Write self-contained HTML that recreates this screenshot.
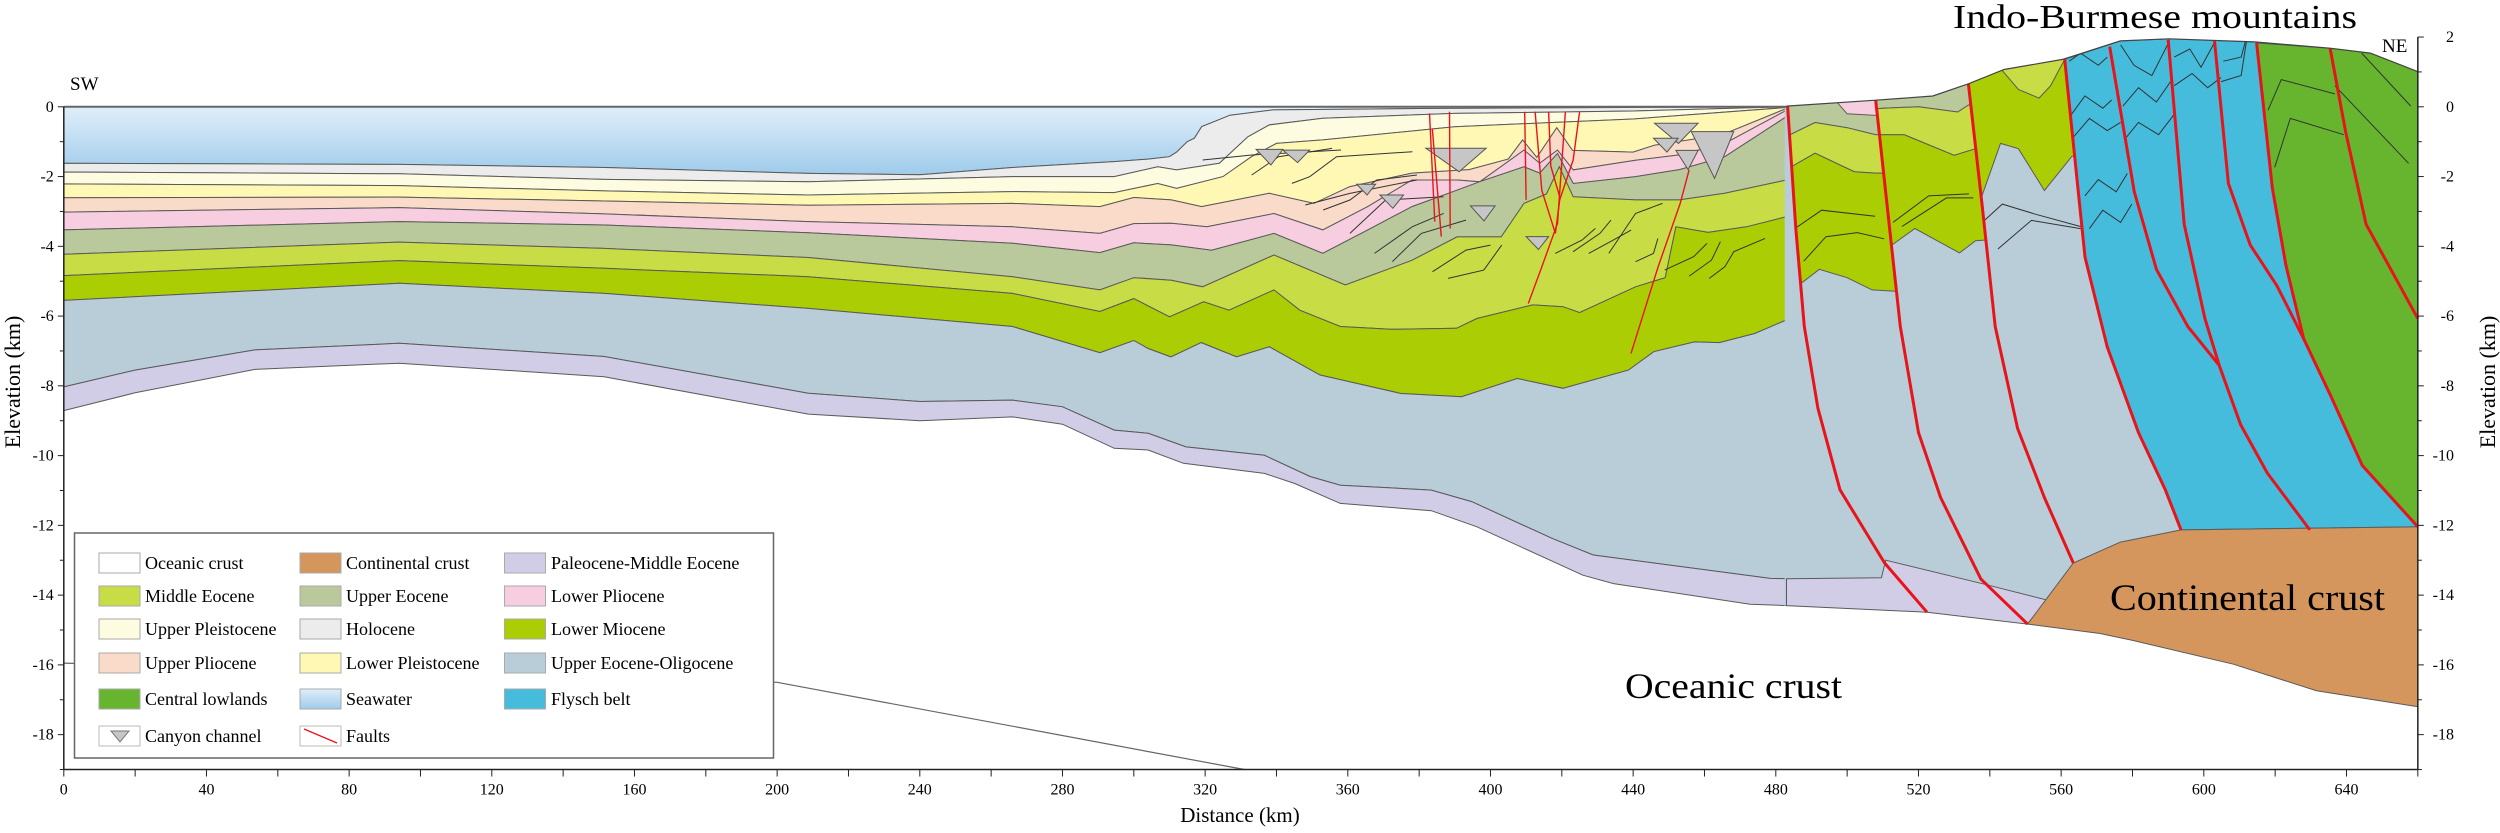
<!DOCTYPE html>
<html><head><meta charset="utf-8"><title>Cross-section SW–NE</title>
<style>
html,body{margin:0;padding:0;background:#fff;}
svg{display:block;font-family:"Liberation Serif",serif;}
</style></head>
<body>
<svg id="chart" width="2500" height="833" viewBox="0 0 2500 833" xmlns="http://www.w3.org/2000/svg">
<defs>
<linearGradient id="seaGrad" x1="0" y1="0" x2="0" y2="1">
<stop offset="0" stop-color="#e0eefa"/><stop offset="1" stop-color="#9ecbea"/>
</linearGradient>
<linearGradient id="seaGradLeg" x1="0" y1="0" x2="0" y2="1">
<stop offset="0" stop-color="#e0eefa"/><stop offset="1" stop-color="#9ecbea"/>
</linearGradient>
</defs>
<g id="layers"></g>
<g id="deco"></g>
<g id="faults"></g>
<g id="cover"></g>
<g id="axes"></g>
<g id="labels">
<text x="70" y="90" font-size="19">SW</text>
<text x="2382" y="52" font-size="19">NE</text>
<text x="1953" y="28" font-size="34" textLength="404" lengthAdjust="spacingAndGlyphs">Indo-Burmese mountains</text>
<text x="2110" y="610" font-size="37" textLength="275" lengthAdjust="spacingAndGlyphs">Continental crust</text>
<text x="1625" y="698" font-size="36" textLength="217" lengthAdjust="spacingAndGlyphs">Oceanic crust</text>
<text x="0" y="0" font-size="22" text-anchor="middle" transform="translate(20,382) rotate(-90)">Elevation (km)</text>
<text x="0" y="0" font-size="22" text-anchor="middle" transform="translate(2495,382) rotate(-90)">Elevation (km)</text>
<text x="1240" y="822" font-size="21" text-anchor="middle">Distance (km)</text>
</g>
<g id="legend"></g>
</svg>
<script>
// ---------- DATA (distance km, elevation km) ----------
const seaSurface = [[0,0],[483,0]];
const seafloor = [[0,-1.62],[94,-1.65],[151.5,-1.74],[208.7,-1.91],[240,-1.95],[266,-1.74],[294.5,-1.57],[304,-1.5],[310,-1.43],[312,-1.3],[315,-1.0],[317,-0.9],[319,-0.57],[327,-0.24],[339,-0.09],[380,-0.05],[483,0]];
const holoceneBase = [[0,-1.87],[94,-1.92],[151.5,-2.08],[208.7,-2.15],[266,-2.0],[294.5,-2.0],[306.7,-1.72],[312,-1.81],[324,-1.62],[332,-0.86],[338,-0.52],[353,-0.33],[390,-0.19],[440,-0.12],[483,0]];
const upperPleistBase = [[0,-2.21],[94,-2.26],[151.5,-2.41],[208.7,-2.53],[266,-2.43],[294.5,-2.46],[302,-2.3],[306.7,-2.2],[312,-2.34],[325,-2.0],[333,-1.43],[340,-1.05],[353,-0.95],[390,-0.57],[440,-0.35],[483,-0.02]];
const lowerPleistBase = [[0,-2.61],[94,-2.59],[151.5,-2.7],[208.7,-2.82],[266,-2.77],[290.5,-2.86],[300,-2.6],[310.5,-2.67],[319,-2.86],[338,-2.48],[350.5,-2.77],[360.5,-2.29],[378,-1.9],[394,-1.8],[405,-1.5],[409,-0.95],[413,-1.45],[418.6,-0.6],[423,-1.25],[440,-1.3],[446,-1.1],[465,-0.8],[483,-0.05]];
const upperPlioBase = [[0,-3.02],[94,-2.89],[151.5,-3.07],[208.7,-3.29],[266,-3.44],[290.5,-3.63],[300,-3.35],[310.5,-3.34],[320.5,-3.44],[339.3,-3.06],[353,-3.53],[365.6,-2.86],[378,-2.1],[390.6,-2.1],[397,-2.15],[409.4,-1.24],[413.8,-1.62],[418.8,-1.24],[423.2,-1.81],[440.7,-1.53],[453,-1.38],[465.7,-1.05],[483,-0.1]];
const lowerPlioBase = [[0,-3.53],[94,-3.29],[151.5,-3.39],[208.7,-3.61],[266,-3.91],[290.5,-4.18],[300,-3.9],[310.5,-3.96],[321.8,-4.11],[339.3,-3.63],[353,-4.2],[365.6,-3.53],[378,-2.86],[390.6,-2.39],[396.9,-2.15],[409.4,-1.72],[413.8,-1.9],[418.8,-1.34],[423.2,-2.2],[440.7,-2.0],[453,-1.8],[465.7,-1.43],[483,-0.28]];
const upperEoceneBase = [[0,-4.23],[94,-3.88],[151.5,-4.06],[208.7,-4.32],[266,-4.87],[290.5,-5.25],[300,-4.9],[310.5,-4.97],[319.3,-5.16],[339.3,-4.25],[359.3,-5.11],[378,-4.4],[390.6,-3.73],[403,-3.73],[409.4,-2.77],[415.7,-2.5],[419.3,-1.72],[423.2,-2.58],[440.7,-2.67],[453,-2.67],[465.7,-2.48],[483,-2.1]];
const middleEoceneBase = [[0,-4.84],[94,-4.41],[151.5,-4.63],[208.7,-4.87],[266,-5.35],[290.5,-5.87],[300,-5.5],[310,-6.02],[319.6,-5.59],[326.7,-5.83],[339.3,-5.25],[346.5,-5.83],[357.9,-6.3],[372,-6.38],[390.5,-6.35],[396.2,-6.07],[411.8,-5.68],[420.3,-5.73],[425,-5.9],[440.7,-5.16],[449,-4.9],[452,-3.44],[461,-3.6],[471.8,-3.44],[483,-3.15]];
const lowerMioceneBase = [[0,-5.55],[94,-5.06],[151.5,-5.35],[208.7,-5.78],[266,-6.3],[290.5,-7.05],[300,-6.7],[304,-6.93],[310.4,-7.17],[318.9,-6.76],[328.8,-7.17],[338,-6.88],[352.2,-7.69],[374.9,-8.22],[391.9,-8.31],[407.5,-7.79],[420.3,-8.07],[438.7,-7.55],[445.8,-7.02],[457.2,-6.74],[464.2,-6.76],[474.1,-6.5],[483,-6.11]];
const oligoceneBase = [[0,-8.03],[20,-7.55],[53.6,-6.97],[94,-6.78],[151.5,-7.16],[208.7,-8.21],[240,-8.45],[266,-8.41],[280,-8.6],[294.5,-9.27],[304,-9.36],[314.6,-9.75],[336.6,-9.99],[349.4,-10.6],[357.9,-10.85],[383.4,-10.99],[394.7,-11.32],[417.4,-12.38],[428.8,-12.85],[478.4,-13.52],[483,-13.53]];
const paleoceneBase = [[0,-8.71],[20,-8.2],[53.6,-7.53],[94,-7.35],[151.5,-7.74],[208.7,-8.81],[240,-9.0],[266,-8.89],[280,-9.1],[294.5,-9.79],[304,-9.84],[313.9,-10.22],[336.6,-10.51],[345.1,-10.8],[357.9,-11.37],[383.4,-11.58],[396.2,-12.04],[425.9,-13.43],[434.5,-13.67],[472.8,-14.26],[483,-14.3]];
const topography = [[483,0.02],[508,0.19],[524,0.31],[534,0.66],[544,1.07],[560.4,1.36],[576.6,1.89],[590.4,1.95],[614.2,1.86],[635.4,1.68],[646.7,1.54],[660,1.01]];
const contTop = [[550.6,-14.83],[563.4,-13.08],[576.6,-12.48],[593.6,-12.13],[660,-12.04]];
const contBottom = [[550.6,-14.83],[570.9,-15.1],[580.2,-15.3],[608.3,-15.98],[631.6,-16.74],[660,-17.2]];
const purpleTopRight = [[483,-13.53],[509.6,-13.5],[510.8,-13.0],[537.5,-13.66],[556,-14.14]];
const purpleBottomRight = [[483,-14.3],[522.4,-14.49],[550.6,-14.83]];
const oceanLine = [[0,-15.95],[200,-16.5],[331,-19]];
const fault1 = [[483.3,0.02],[485.6,-3.49],[488,-6.3],[491.8,-8.64],[498,-10.98],[510.5,-13.08],[522.4,-14.49]];
const fault2 = [[508,0.19],[512.4,-3.96],[514.9,-6.3],[520,-9.34],[526.2,-11.2],[537.5,-13.54],[550.6,-14.83]];
const fault3 = [[534,0.66],[537.8,-2.79],[541.5,-6.3],[547.8,-9.22],[555.3,-11.2],[563.4,-13.08]];
const fault4 = [[561,1.36],[566.7,-4.31],[572.9,-6.88],[581.7,-9.34],[589.2,-10.98],[593.6,-12.13]];
const fault5 = [[573.6,1.72],[580.5,-2.44],[586.7,-4.66],[595.5,-6.3],[604.3,-7.41]];
const fault6 = [[590,1.92],[594.5,-3.37],[600.3,-6.07],[604.3,-7.41],[610.3,-9.11],[617.8,-10.5],[629.7,-12.13]];
const fault7 = [[603,1.89],[606.9,-2.2],[613,-3.96],[620.5,-5.13],[628,-6.65]];
const fault8 = [[614.8,1.83],[619.2,-2.32],[623,-4.54],[628,-6.65],[635.6,-8.29],[644.4,-10.28],[660,-12.04]];
const fault9 = [[635.4,1.68],[639.8,-0.74],[645.5,-3.37],[660,-6.07]];
const minorFaults = [
 [[382.9,-0.19],[384.4,-3.29]],
 [[383.7,-0.62],[386.2,-3.72]],
 [[388.5,-0.14],[388.7,-3.49]],
 [[409.6,-0.14],[410,-2.67]],
 [[412.5,-0.14],[414.4,-2.39],[418.2,-3.63]],
 [[416.3,-0.14],[416.9,-1.7],[419.4,-2.58]],
 [[421,-0.14],[418.8,-3.34],[414.4,-4.59],[410.6,-5.64]],
 [[425,-0.14],[423.2,-1.52],[419.4,-2.67],[418.2,-3.63]],
 [[455.7,-1.81],[453.2,-2.77],[447,-4.59],[439.4,-7.07]]
];
const canyons = [[334.3,341.8,-1.22,-1.67],[341.8,349.3,-1.24,-1.6],[381.9,398.8,-1.19,-1.86],[362.5,367.8,-2.22,-2.53],[369,375.6,-2.53,-2.91],[394.4,401.3,-2.84,-3.27],[410,416.3,-3.72,-4.09],[446,458.2,-0.47,-1.05],[445.7,452.6,-0.9,-1.3],[456.3,468.2,-0.71,-2.05],[452,458.2,-1.25,-1.8]];
const ggBaseA = [[478,-0.8],[484,-0.8],[491,-0.45],[500,-0.6],[508,-0.8],[516,-0.8]];
const meBaseA = [[478,-1.74],[484,-1.74],[491,-1.33],[502,-1.86],[508,-1.9],[516,-1.9]];
const lmBaseA = [[478,-5.1],[486.6,-5.1],[492.2,-4.66],[500,-4.9],[507,-5.25],[516,-5.3]];
const pinkPatchA = [[497,0.15],[508.5,0.25],[508.5,-0.25],[500,-0.2]];
const ggBaseB = [[504,-0.1],[510,-0.04],[520,0.0],[531,-0.15],[534,0.05],[542,0.1]];
const meBaseB = [[504,-0.8],[516,-0.8],[530,-1.39],[536,-1.2],[542,-1.2]];
const lmBaseB = [[504,-3.96],[512.6,-3.96],[519,-3.49],[531.5,-4.19],[536,-3.84],[542,-3.8]];
const meBaseC = [[543,1.1],[548,0.5],[553.8,0.25],[557,0.6],[561,1.36],[568,1.4]];
const lmBaseC = [[530,-2.55],[537.8,-2.55],[543,-1.05],[548,-1.2],[555.3,-2.4],[563,-1.42],[570,-1.3]];
const yTicksLeft = [0,-2,-4,-6,-8,-10,-12,-14,-16,-18];
const yTicksRight = [2,0,-2,-4,-6,-8,-10,-12,-14,-16,-18];
const xTicks = [0,40,80,120,160,200,240,280,320,360,400,440,480,520,560,600,640];
const legendNames = ["Oceanic crust","Continental crust","Paleocene-Middle Eocene","Middle Eocene","Upper Eocene","Lower Pliocene","Upper Pleistocene","Holocene","Lower Miocene","Upper Pliocene","Lower Pleistocene","Upper Eocene-Oligocene","Central lowlands","Seawater","Flysch belt","Canyon channel","Faults"];
const legendColors = ["#ffffff","#d4965c","#d2cde6","#c8dc46","#b9c99b","#f7cee0","#fdfbe0","#ececec","#abcd04","#fadac8","#fef8b4","#b8cdd8","#67b52f","url(#seaGradLeg)","#45bcdc","canyon","fault"];

// ---------- RENDER ----------
const NS = "http://www.w3.org/2000/svg";
const X = km => 63.8 + km * 3.5667;
const Y = e => 106.8 - e * 34.88;
const P = arr => arr.map(p => X(p[0]).toFixed(1) + "," + Y(p[1]).toFixed(1)).join(" ");
function mk(tag, attrs, parent) {
  const el = document.createElementNS(NS, tag);
  for (const k in attrs) el.setAttribute(k, attrs[k]);
  parent.appendChild(el);
  return el;
}
const gL = document.getElementById("layers");
const gD = document.getElementById("deco");
const gF = document.getElementById("faults");
const gC = document.getElementById("cover");
const gA = document.getElementById("axes");
const gLeg = document.getElementById("legend");

function layer(top, bottom, fill, name, parent) {
  const pts = top.concat(bottom.slice().reverse());
  const el = mk("polygon", {points: P(pts), fill: fill, stroke: "#5a5a5a", "stroke-width": "1"}, parent || gL);
  
  
  return el;
}
layer(seaSurface, seafloor, "url(#seaGrad)", "seawater");
layer(seafloor, holoceneBase, "#ececec", "holocene");
layer(holoceneBase, upperPleistBase, "#fdfbe0", "upper-pleistocene");
layer(upperPleistBase, lowerPleistBase, "#fef8b4", "lower-pleistocene");
layer(lowerPleistBase, upperPlioBase, "#fadac8", "upper-pliocene");
layer(upperPlioBase, lowerPlioBase, "#f7cee0", "lower-pliocene");
layer(lowerPlioBase, upperEoceneBase, "#b9c99b", "upper-eocene");
layer(upperEoceneBase, middleEoceneBase, "#c8dc46", "middle-eocene");
layer(middleEoceneBase, lowerMioceneBase, "#abcd04", "lower-miocene");
layer(lowerMioceneBase, oligoceneBase, "#b8cdd8", "upper-eocene-oligocene");
layer(oligoceneBase, paleoceneBase, "#d2cde6", "paleocene-middle-eocene");

const topToF4 = topography.filter(p => p[0] <= 560.4);
const ueoPts = [[482.5,0.0]].concat(topToF4, fault4, contTop.filter(p => p[0] <= 593.6).reverse(), purpleBottomRight.slice(0, 2).reverse(), [[482.5,-14.3]]);
const ueo = mk("polygon", {points: P(ueoPts), fill: "#b8cdd8", stroke: "none"}, gL);


const purR = mk("polygon", {points: P(purpleTopRight.concat([[550.6,-14.83]], purpleBottomRight.slice().reverse())), fill: "#d2cde6", stroke: "#5a5a5a", "stroke-width": "1"}, gL);


const fly = mk("polygon", {points: P(fault4.concat(contTop.filter(p => p[0] > 593.6), [[660,1.01]], topography.filter(p => p[0] > 560.4).reverse())), fill: "#45bcdc", stroke: "#5a5a5a", "stroke-width": "1"}, gL);


const low = mk("polygon", {points: P(fault8.concat([[660,1.01]], topography.filter(p => p[0] > 614.8 && p[0] < 660).reverse())), fill: "#67b52f", stroke: "#5a5a5a", "stroke-width": "1"}, gL);


const cont = mk("polygon", {points: P(contTop.concat(contBottom.slice().reverse())), fill: "#d4965c", stroke: "#5a5a5a", "stroke-width": "1"}, gL);



const defs = document.querySelector("defs");
function blockClip(id, fl, fr) {
  const cp = mk("clipPath", {id: id}, defs);
  const pts = [[fl[0][0], 4]].concat(fl, fr.slice().reverse(), [[fr[0][0], 4]]);
  mk("polygon", {points: P(pts)}, cp);
}
blockClip("clipA", fault1, fault2);
blockClip("clipB", fault2, fault3);
blockClip("clipC", fault3, fault4);
const gA1 = mk("g", {"clip-path": "url(#clipA)"}, gL);


layer([[478,4],[516,4]], ggBaseA, "#b9c99b", "upper-eocene-block-a", gA1);
layer(ggBaseA, meBaseA, "#c8dc46", "middle-eocene-block-a", gA1);
layer(meBaseA, lmBaseA, "#abcd04", "lower-miocene-block-a", gA1);
const pinkA = mk("polygon", {points: P(pinkPatchA), fill: "#f7cee0", stroke: "#5a5a5a", "stroke-width": "1"}, gA1);


const gB1 = mk("g", {"clip-path": "url(#clipB)"}, gL);


layer([[504,4],[542,4]], ggBaseB, "#b9c99b", "upper-eocene-block-b", gB1);
layer(ggBaseB, meBaseB, "#c8dc46", "middle-eocene-block-b", gB1);
layer(meBaseB, lmBaseB, "#abcd04", "lower-miocene-block-b", gB1);
const gC1 = mk("g", {"clip-path": "url(#clipC)"}, gL);


layer([[530,4],[570,4]], lmBaseC, "#abcd04", "lower-miocene-block-c", gC1);
layer([[543,4],[568,4]], meBaseC, "#c8dc46", "middle-eocene-block-c", gC1);

const Z = (zx, zy) => [472.8 + zx / 7.99, 3.062 - zy / 85.46];
const decoLinesZ = [
 [[715,150],[740,130],[780,160],[800,140]],
 [[720,280],[750,235],[790,265],[810,245]],
 [[725,335],[760,290],[800,320],[830,300]],
 [[750,480],[780,440],[820,470],[845,425]],
 [[760,560],[790,515],[830,545],[855,500]],
 [[830,110],[860,160],[900,185],[935,110]],
 [[835,260],[870,215],[910,250],[945,195]],
 [[840,340],[870,300],[915,330],[950,280]],
 [[950,140],[985,120],[1010,165],[1040,105]],
 [[950,210],[990,180],[1025,215],[1055,190]],
 [[1060,150],[1100,140],[1110,100]],
 [[1055,200],[1100,185],[1112,100]],
 [[1160,270],[1190,195],[1310,230]],
 [[1175,410],[1210,290],[1330,330]],
 [[1370,130],[1480,260]],
 [[1310,210],[1475,400]],
 [[100,560],[160,515],[280,530]],
 [[120,640],[170,580],[240,570],[300,585]],
 [[320,545],[400,480],[490,475]],
 [[340,555],[440,485],[500,485]],
 [[525,540],[565,500],[640,525],[740,555]],
 [[555,610],[630,540],[740,560]]
];
decoLinesZ.forEach(l => {
  const e = mk("polyline", {points: P(l.map(p => Z(p[0], p[1]))), fill: "none", stroke: "#333", "stroke-width": "1"}, gD);
  
  
});
const W = (zx, zy) => [290.5 + zx / 7.99, 1.342 - zy / 104.6];
const wedgeLinesZ = [
 [[230,300],[340,285],[540,270]],[[340,345],[400,290],[520,265]],[[430,370],[470,350],[530,290],[700,275]],
 [[460,435],[560,400],[710,360]],[[500,450],[560,420],[620,360],[710,345]],
 [[560,520],[640,420],[770,410]],[[615,580],[700,500],[770,460]],[[655,605],[720,520],[820,480]],
 [[745,635],[820,570],[875,555]],[[780,655],[860,630],[900,555]],
 [[1020,580],[1080,540],[1110,505]],[[1060,575],[1120,520],[1145,480]],[[1095,580],[1150,540],[1190,510]],
 [[1140,580],[1200,460],[1260,430]],[[1200,605],[1240,580],[1250,535]],[[1265,630],[1330,590],[1360,550]],
 [[1320,648],[1370,600],[1390,545]],[[1365,655],[1400,620],[1420,575],[1490,535]]
];
wedgeLinesZ.forEach(l => {
  const e = mk("polyline", {points: P(l.map(p => W(p[0], p[1]))), fill: "none", stroke: "#333", "stroke-width": "1"}, gD);
  
  
});
canyons.forEach(c => {
  const pts = [[c[0], c[2]], [c[1], c[2]], [(c[0] + c[1]) / 2 + (c[1] - c[0]) * 0.05, c[3]]];
  const e = mk("polygon", {points: P(pts), fill: "#c6c6c6", stroke: "#555", "stroke-width": "1"}, gD);
  
  
});
const oc = mk("polyline", {points: P(oceanLine), fill: "none", stroke: "#666", "stroke-width": "1.2"}, gD);



[fault1,fault2,fault3,fault4,fault5,fault6,fault7,fault8,fault9].forEach((f, i) => {
  const e = mk("polyline", {points: P(f), fill: "none", stroke: "#e8141b", "stroke-width": "3", "stroke-linejoin": "round"}, gF);
  
  
});
minorFaults.forEach(f => {
  const e = mk("polyline", {points: P(f), fill: "none", stroke: "#e8141b", "stroke-width": "1.4"}, gF);
  
  
});

const sky = mk("polygon", {points: P(topography.concat([[660,4],[483,4]])), fill: "#fff", stroke: "none"}, gC);


const surf = mk("polyline", {points: P(topography), fill: "none", stroke: "#444", "stroke-width": "1.2"}, gC);


const sl = mk("polyline", {points: P(seaSurface), fill: "none", stroke: "#666", "stroke-width": "2"}, gC);



const yBot = Y(-19);
const axL = mk("line", {x1: X(0), y1: Y(0), x2: X(0), y2: yBot, stroke: "#222", "stroke-width": "1.5"}, gA);


const axR = mk("line", {x1: X(660), y1: Y(2), x2: X(660), y2: yBot, stroke: "#222", "stroke-width": "1.5"}, gA);


const axB = mk("line", {x1: X(0), y1: yBot, x2: X(660), y2: yBot, stroke: "#222", "stroke-width": "1.5"}, gA);


for (let e = 0; e >= -19; e--) {
  const len = e % 2 === 0 ? 6 : 4;
  mk("line", {x1: X(0) - len, y1: Y(e), x2: X(0), y2: Y(e), stroke: "#222", "stroke-width": "1"}, gA);
}
for (let e = 2; e >= -19; e--) {
  const len = e % 2 === 0 ? 6 : 4;
  mk("line", {x1: X(660), y1: Y(e), x2: X(660) + len, y2: Y(e), stroke: "#222", "stroke-width": "1"}, gA);
}
for (let k = 0; k <= 660; k += 20) {
  mk("line", {x1: X(k), y1: yBot, x2: X(k), y2: yBot + 7, stroke: "#222", "stroke-width": "1"}, gA);
}
yTicksLeft.forEach(v => {
  const t = mk("text", {x: X(0) - 10, y: Y(v) + 5, "font-size": "16", "text-anchor": "end"}, gA);
  
  
  t.textContent = v;
});
yTicksRight.forEach(v => {
  const t = mk("text", {x: 2454, y: Y(v) + 5, "font-size": "16", "text-anchor": "end"}, gA);
  
  
  t.textContent = v;
});
xTicks.forEach(v => {
  const t = mk("text", {x: X(v), y: yBot + 25, "font-size": "16", "text-anchor": "middle"}, gA);
  
  
  t.textContent = v;
});

const box = mk("rect", {x: 74.5, y: 533, width: 699, height: 225, fill: "#fff", stroke: "#666", "stroke-width": "1.5"}, gLeg);


const colX = [99, 300, 504.5], textX = [145, 346, 551];
const rowY = [563, 596, 629, 663, 699, 736];
legendNames.forEach((name, i) => {
  const c = i % 3, r = Math.floor(i / 3);
  const g = mk("g", {}, gLeg);
  
  
  const col = legendColors[i];
  const sx = colX[c], sy = rowY[r] - 10;
  if (col === "canyon") {
    mk("rect", {x: sx, y: sy, width: 41, height: 20, fill: "#fff", stroke: "#bbb", "stroke-width": "1"}, g);
    mk("polygon", {points: `${sx+12},${sy+5} ${sx+30},${sy+5} ${sx+21},${sy+16}`, fill: "#c6c6c6", stroke: "#777", "stroke-width": "1"}, g);
  } else if (col === "fault") {
    mk("rect", {x: sx, y: sy, width: 41, height: 20, fill: "#fff", stroke: "#bbb", "stroke-width": "1"}, g);
    mk("line", {x1: sx + 4, y1: sy + 3, x2: sx + 37, y2: sy + 17, stroke: "#e8141b", "stroke-width": "1.3"}, g);
  } else {
    mk("rect", {x: sx, y: sy, width: 41, height: 20, fill: col, stroke: "#aaa", "stroke-width": "1"}, g);
  }
  const t = mk("text", {x: textX[c], y: rowY[r] + 6, "font-size": "18"}, g);
  t.textContent = name;
});
</script>
</body></html>
